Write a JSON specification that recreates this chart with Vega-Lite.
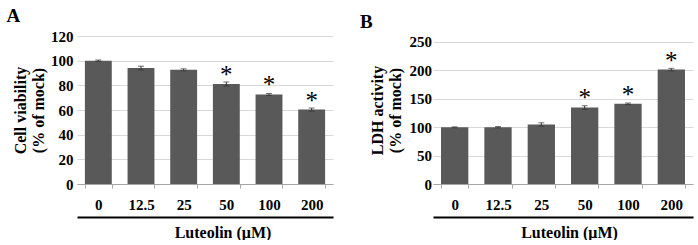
{
  "$schema": "https://vega.github.io/schema/vega-lite/v6.json",
  "padding": {"left": 6, "top": 7, "right": 5, "bottom": 0},
  "background": "white",
  "datasets": {
    "viab": [
      {"conc": "0", "mean": 100, "err": 0.5, "sig": ""},
      {"conc": "12.5", "mean": 94, "err": 1.5, "sig": ""},
      {"conc": "25", "mean": 92.6, "err": 0.8, "sig": ""},
      {"conc": "50", "mean": 81, "err": 1.7, "sig": "*"},
      {"conc": "100", "mean": 72.6, "err": 0.8, "sig": "*"},
      {"conc": "200", "mean": 60.4, "err": 1.2, "sig": "*"}
    ],
    "ldh": [
      {"conc": "0", "mean": 99.5, "err": 0.8, "sig": ""},
      {"conc": "12.5", "mean": 99.7, "err": 1.2, "sig": ""},
      {"conc": "25", "mean": 104.5, "err": 3, "sig": ""},
      {"conc": "50", "mean": 134.5, "err": 3, "sig": "*"},
      {"conc": "100", "mean": 140.8, "err": 1.5, "sig": "*"},
      {"conc": "200", "mean": 201, "err": 2.2, "sig": "*"}
    ]
  },
  "config": {
    "view": {"stroke": null},
    "font": "Liberation Serif",
    "axis": {
      "labelFont": "Liberation Serif", "labelFontWeight": "bold", "labelFontSize": 15, "labelColor": "black",
      "titleFont": "Liberation Serif", "titleFontWeight": "bold", "titleFontSize": 16, "titleColor": "black"
    },
    "axisY": {"domain": false, "ticks": false, "gridColor": "#d9d9d9", "titleLineHeight": 18},
    "title": {"font": "Liberation Serif", "fontWeight": "bold", "fontSize": 19, "color": "black", "anchor": "start", "frame": "bounds"}
  },
  "spacing": 27,
  "hconcat": [
    {
      "width": 256, "height": 148,
      "title": {"text": "A", "offset": 3, "dx": -5.5},
      "data": {"name": "viab"},
      "layer": [
        {
          "mark": {"type": "bar", "color": "#595959"},
          "encoding": {
            "x": {"field": "conc", "type": "nominal",
              "scale": {"domain": ["0", "12.5", "25", "50", "100", "200"], "paddingInner": 0.37, "paddingOuter": 0.185},
              "axis": {"title": null, "labelAngle": 0, "tickBand": "extent", "domainColor": "#a6a6a6", "tickColor": "#a6a6a6", "tickSize": 4, "labelPadding": 9}},
            "y": {"field": "mean", "type": "quantitative", "scale": {"domain": [0, 120]},
              "axis": {"values": [0, 20, 40, 60, 80, 100, 120], "title": ["Cell viability", "(% of mock)"], "labelPadding": 4, "titlePadding": 4.5}}
          }
        },
        {
          "mark": {"type": "errorbar", "ticks": {"size": 6, "color": "#333333"}, "color": "#333333"},
          "encoding": {
            "x": {"field": "conc", "type": "nominal", "scale": {"domain": ["0", "12.5", "25", "50", "100", "200"]}, "axis": null},
            "y": {"field": "mean", "type": "quantitative", "axis": {"values": [0, 20, 40, 60, 80, 100, 120], "title": ["Cell viability", "(% of mock)"], "labelPadding": 4, "titlePadding": 4.5}},
            "yError": {"field": "err"}
          }
        },
        {
          "mark": {"type": "text", "fontSize": 25, "font": "Liberation Serif", "baseline": "alphabetic", "dy": -1, "color": "black"},
          "encoding": {
            "x": {"field": "conc", "type": "nominal", "scale": {"domain": ["0", "12.5", "25", "50", "100", "200"]},
              "axis": {"orient": "bottom", "offset": 33, "domainColor": "black", "domainWidth": 2, "ticks": false, "labels": false, "grid": false, "title": "Luteolin (μM)", "titlePadding": 7, "titleX": 145.5}},
            "y": {"field": "mean", "type": "quantitative", "axis": {"values": [0, 20, 40, 60, 80, 100, 120], "title": ["Cell viability", "(% of mock)"], "labelPadding": 4, "titlePadding": 4.5}},
            "text": {"field": "sig"}
          }
        }
      ],
      "resolve": {"axis": {"x": "independent"}}
    },
    {
      "width": 260, "height": 148,
      "title": {"text": "B", "offset": 3, "dx": -9},
      "data": {"name": "ldh"},
      "layer": [
        {
          "mark": {"type": "bar", "color": "#595959"},
          "encoding": {
            "x": {"field": "conc", "type": "nominal",
              "scale": {"domain": ["0", "12.5", "25", "50", "100", "200"], "paddingInner": 0.37, "paddingOuter": 0.185},
              "axis": {"title": null, "labelAngle": 0, "tickBand": "extent", "domainColor": "#a6a6a6", "tickColor": "#a6a6a6", "tickSize": 4, "labelPadding": 9}},
            "y": {"field": "mean", "type": "quantitative", "scale": {"domain": [0, 250]},
              "axis": {"values": [0, 50, 100, 150, 200, 250], "title": ["LDH activity", "(% of mock)"], "labelPadding": 1.5, "titlePadding": 6}}
          }
        },
        {
          "mark": {"type": "errorbar", "ticks": {"size": 6, "color": "#333333"}, "color": "#333333"},
          "encoding": {
            "x": {"field": "conc", "type": "nominal", "scale": {"domain": ["0", "12.5", "25", "50", "100", "200"]}, "axis": null},
            "y": {"field": "mean", "type": "quantitative", "axis": {"values": [0, 50, 100, 150, 200, 250], "title": ["LDH activity", "(% of mock)"], "labelPadding": 1.5, "titlePadding": 6}},
            "yError": {"field": "err"}
          }
        },
        {
          "mark": {"type": "text", "fontSize": 25, "font": "Liberation Serif", "baseline": "alphabetic", "dy": -1, "color": "black"},
          "encoding": {
            "x": {"field": "conc", "type": "nominal", "scale": {"domain": ["0", "12.5", "25", "50", "100", "200"]},
              "axis": {"orient": "bottom", "offset": 33, "domainColor": "black", "domainWidth": 2, "ticks": false, "labels": false, "grid": false, "title": "Luteolin (μM)", "titlePadding": 7, "titleX": 136}},
            "y": {"field": "mean", "type": "quantitative", "axis": {"values": [0, 50, 100, 150, 200, 250], "title": ["LDH activity", "(% of mock)"], "labelPadding": 1.5, "titlePadding": 6}},
            "text": {"field": "sig"}
          }
        }
      ],
      "resolve": {"axis": {"x": "independent"}}
    }
  ]
}
